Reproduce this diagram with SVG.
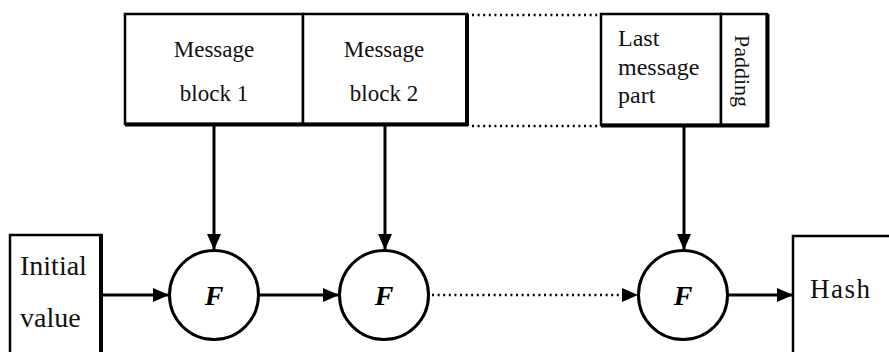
<svg xmlns="http://www.w3.org/2000/svg" width="889" height="352" viewBox="0 0 889 352">
  <style>
    .box { fill: #fff; stroke: #000; stroke-width: 2.5; }
    .edge { stroke: #000; stroke-width: 4; fill: none; }
    .line { stroke: #000; stroke-width: 3; fill: none; }
    .dots { stroke: #000; stroke-width: 2.5; fill: none; stroke-dasharray: 2 3.6; }
    .fn { fill: #fff; stroke: #000; stroke-width: 3; }
    .lbl { font-family: "Liberation Serif", "Times New Roman", serif; fill: #111; }
    .f { font-family: "Liberation Serif", "Times New Roman", serif; font-style: italic; font-weight: bold; font-size: 28px; fill: #000; text-anchor: middle; }
  </style>
  <defs>
    <marker id="arrow" viewBox="0 0 16 14" refX="16" refY="7" markerWidth="16" markerHeight="14" markerUnits="userSpaceOnUse" orient="auto">
      <path d="M0,0 L16,7 L0,14 Z" fill="#000"/>
    </marker>
  </defs>

  <rect width="889" height="352" fill="#fff"/>

  <!-- message blocks 1 and 2 -->
  <g id="message-block-1">
    <rect class="box" x="125" y="14" width="178" height="110"/>
    <text class="lbl" x="214" y="57" font-size="23" text-anchor="middle">Message</text>
    <text class="lbl" x="214" y="101" font-size="23" text-anchor="middle">block 1</text>
  </g>
  <g id="message-block-2">
    <rect class="box" x="303" y="14" width="164" height="110"/>
    <text class="lbl" x="384" y="57" font-size="23" text-anchor="middle">Message</text>
    <text class="lbl" x="384" y="101" font-size="23" text-anchor="middle">block 2</text>
  </g>
  <path class="edge" d="M125,124.5 H468 M467,14 V126"/>

  <!-- last block with padding -->
  <g id="last-message-part">
    <rect class="box" x="601" y="14" width="120" height="111"/>
    <text class="lbl" x="618" y="46" font-size="24">Last</text>
    <text class="lbl" x="618" y="75" font-size="24">message</text>
    <text class="lbl" x="618" y="103" font-size="24">part</text>
  </g>
  <g id="padding">
    <rect class="box" x="721" y="14" width="46" height="111"/>
    <text class="lbl" x="0" y="0" font-size="22" text-anchor="middle" transform="translate(735,71) rotate(90)">Padding</text>
  </g>
  <path class="edge" d="M601,125.5 H769 M767.5,14 V127"/>

  <!-- compression function nodes -->
  <g id="f1">
    <circle class="fn" cx="214" cy="295" r="44.5"/>
    <text class="f" x="214" y="305">F</text>
  </g>
  <g id="f2">
    <circle class="fn" cx="384" cy="295" r="44.5"/>
    <text class="f" x="384" y="305">F</text>
  </g>
  <g id="f3">
    <circle class="fn" cx="683" cy="295" r="44.5"/>
    <text class="f" x="683" y="305">F</text>
  </g>

  <!-- initial value and hash output -->
  <g id="initial-value">
    <rect class="box" x="10" y="235" width="91" height="130"/>
    <path class="edge" d="M101,234 V352"/>
    <text class="lbl" x="20" y="275" font-size="28">Initial</text>
    <text class="lbl" x="20" y="327" font-size="28">value</text>
  </g>
  <g id="hash">
    <rect class="box" x="793" y="236" width="110" height="130"/>
    <text class="lbl" x="810" y="298" font-size="27" letter-spacing="1.5">Hash</text>
  </g>

  <!-- connectors -->
  <g id="connectors">
    <path class="dots" d="M472,15 H598"/>
    <path class="dots" d="M472,126 H598"/>
    <path class="line" d="M214,126 V250" marker-end="url(#arrow)"/>
    <path class="line" d="M385,126 V250" marker-end="url(#arrow)"/>
    <path class="line" d="M684,127 V250" marker-end="url(#arrow)"/>
    <path class="line" d="M102,295 H169" marker-end="url(#arrow)"/>
    <path class="line" d="M259,295 H339" marker-end="url(#arrow)"/>
    <path class="dots" d="M432,295 H624"/>
    <path d="M622,288 L638,295 L622,302 Z" fill="#000"/>
    <path class="line" d="M728,295 H793" marker-end="url(#arrow)"/>
  </g>
</svg>
